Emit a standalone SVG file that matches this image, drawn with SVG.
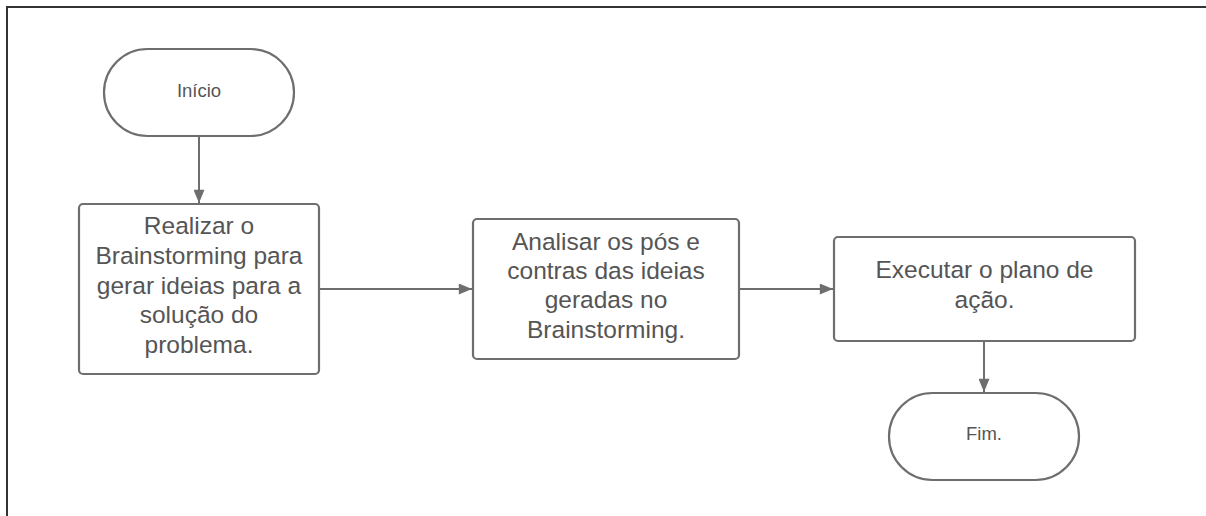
<svg xmlns="http://www.w3.org/2000/svg" width="1206" height="516" viewBox="0 0 1206 516">
<defs>
<style>
.frame{stroke:#333;stroke-width:2;fill:none}
.shape{fill:#fff;stroke:#6e6e6e;stroke-width:2.2}
.edge{stroke:#6e6e6e;stroke-width:2;fill:none}
.t{font-family:"Liberation Sans",Arial,sans-serif;fill:#555;text-anchor:middle}
.big{font-size:24.5px}
.small{font-size:18.5px}
</style>
<marker id="arr" viewBox="0 0 10 10" refX="10" refY="5" markerWidth="5.5" markerHeight="6" orient="auto" markerUnits="userSpaceOnUse">
<path d="M0,0 L10,5 L0,10 z" fill="#6e6e6e"/>
</marker>
<marker id="ah" viewBox="0 0 12 10" refX="12" refY="5" markerWidth="14" markerHeight="11" orient="auto" markerUnits="userSpaceOnUse">
<path d="M0,0 L12,5 L0,10 z" fill="#6e6e6e"/>
</marker>
</defs>
<rect width="1206" height="516" fill="#fff"/>
<path class="frame" d="M7,516 V7 H1206"/>
<g id="connectors">
<line class="edge" x1="199" y1="136" x2="199" y2="203" marker-end="url(#ah)"/>
<line class="edge" x1="319" y1="289" x2="472" y2="289" marker-end="url(#ah)"/>
<line class="edge" x1="739" y1="289" x2="833" y2="289" marker-end="url(#ah)"/>
<line class="edge" x1="984" y1="341" x2="984" y2="392" marker-end="url(#ah)"/>
</g>
<g id="inicio">
<rect class="shape" x="104" y="49" width="190" height="87" rx="43.5"/>
<text class="t small" x="199" y="97">Início</text>
</g>
<g id="brainstorm">
<rect class="shape" x="79" y="204" width="240" height="170" rx="4"/>
<text class="t big" x="199" y="234">Realizar o</text>
<text class="t big" x="199" y="264">Brainstorming para</text>
<text class="t big" x="199" y="294">gerar ideias para a</text>
<text class="t big" x="199" y="323">solução do</text>
<text class="t big" x="199" y="353">problema.</text>
</g>
<g id="analisar">
<rect class="shape" x="473" y="219" width="266" height="140" rx="4"/>
<text class="t big" x="606" y="250">Analisar os pós e</text>
<text class="t big" x="606" y="279">contras das ideias</text>
<text class="t big" x="606" y="308">geradas no</text>
<text class="t big" x="606" y="338">Brainstorming.</text>
</g>
<g id="executar">
<rect class="shape" x="834" y="237" width="301" height="104" rx="4"/>
<text class="t big" x="984.5" y="278">Executar o plano de</text>
<text class="t big" x="984.5" y="308">ação.</text>
</g>
<g id="fim">
<rect class="shape" x="889" y="393" width="190" height="87" rx="43.5"/>
<text class="t small" x="984" y="440">Fim.</text>
</g>
</svg>
